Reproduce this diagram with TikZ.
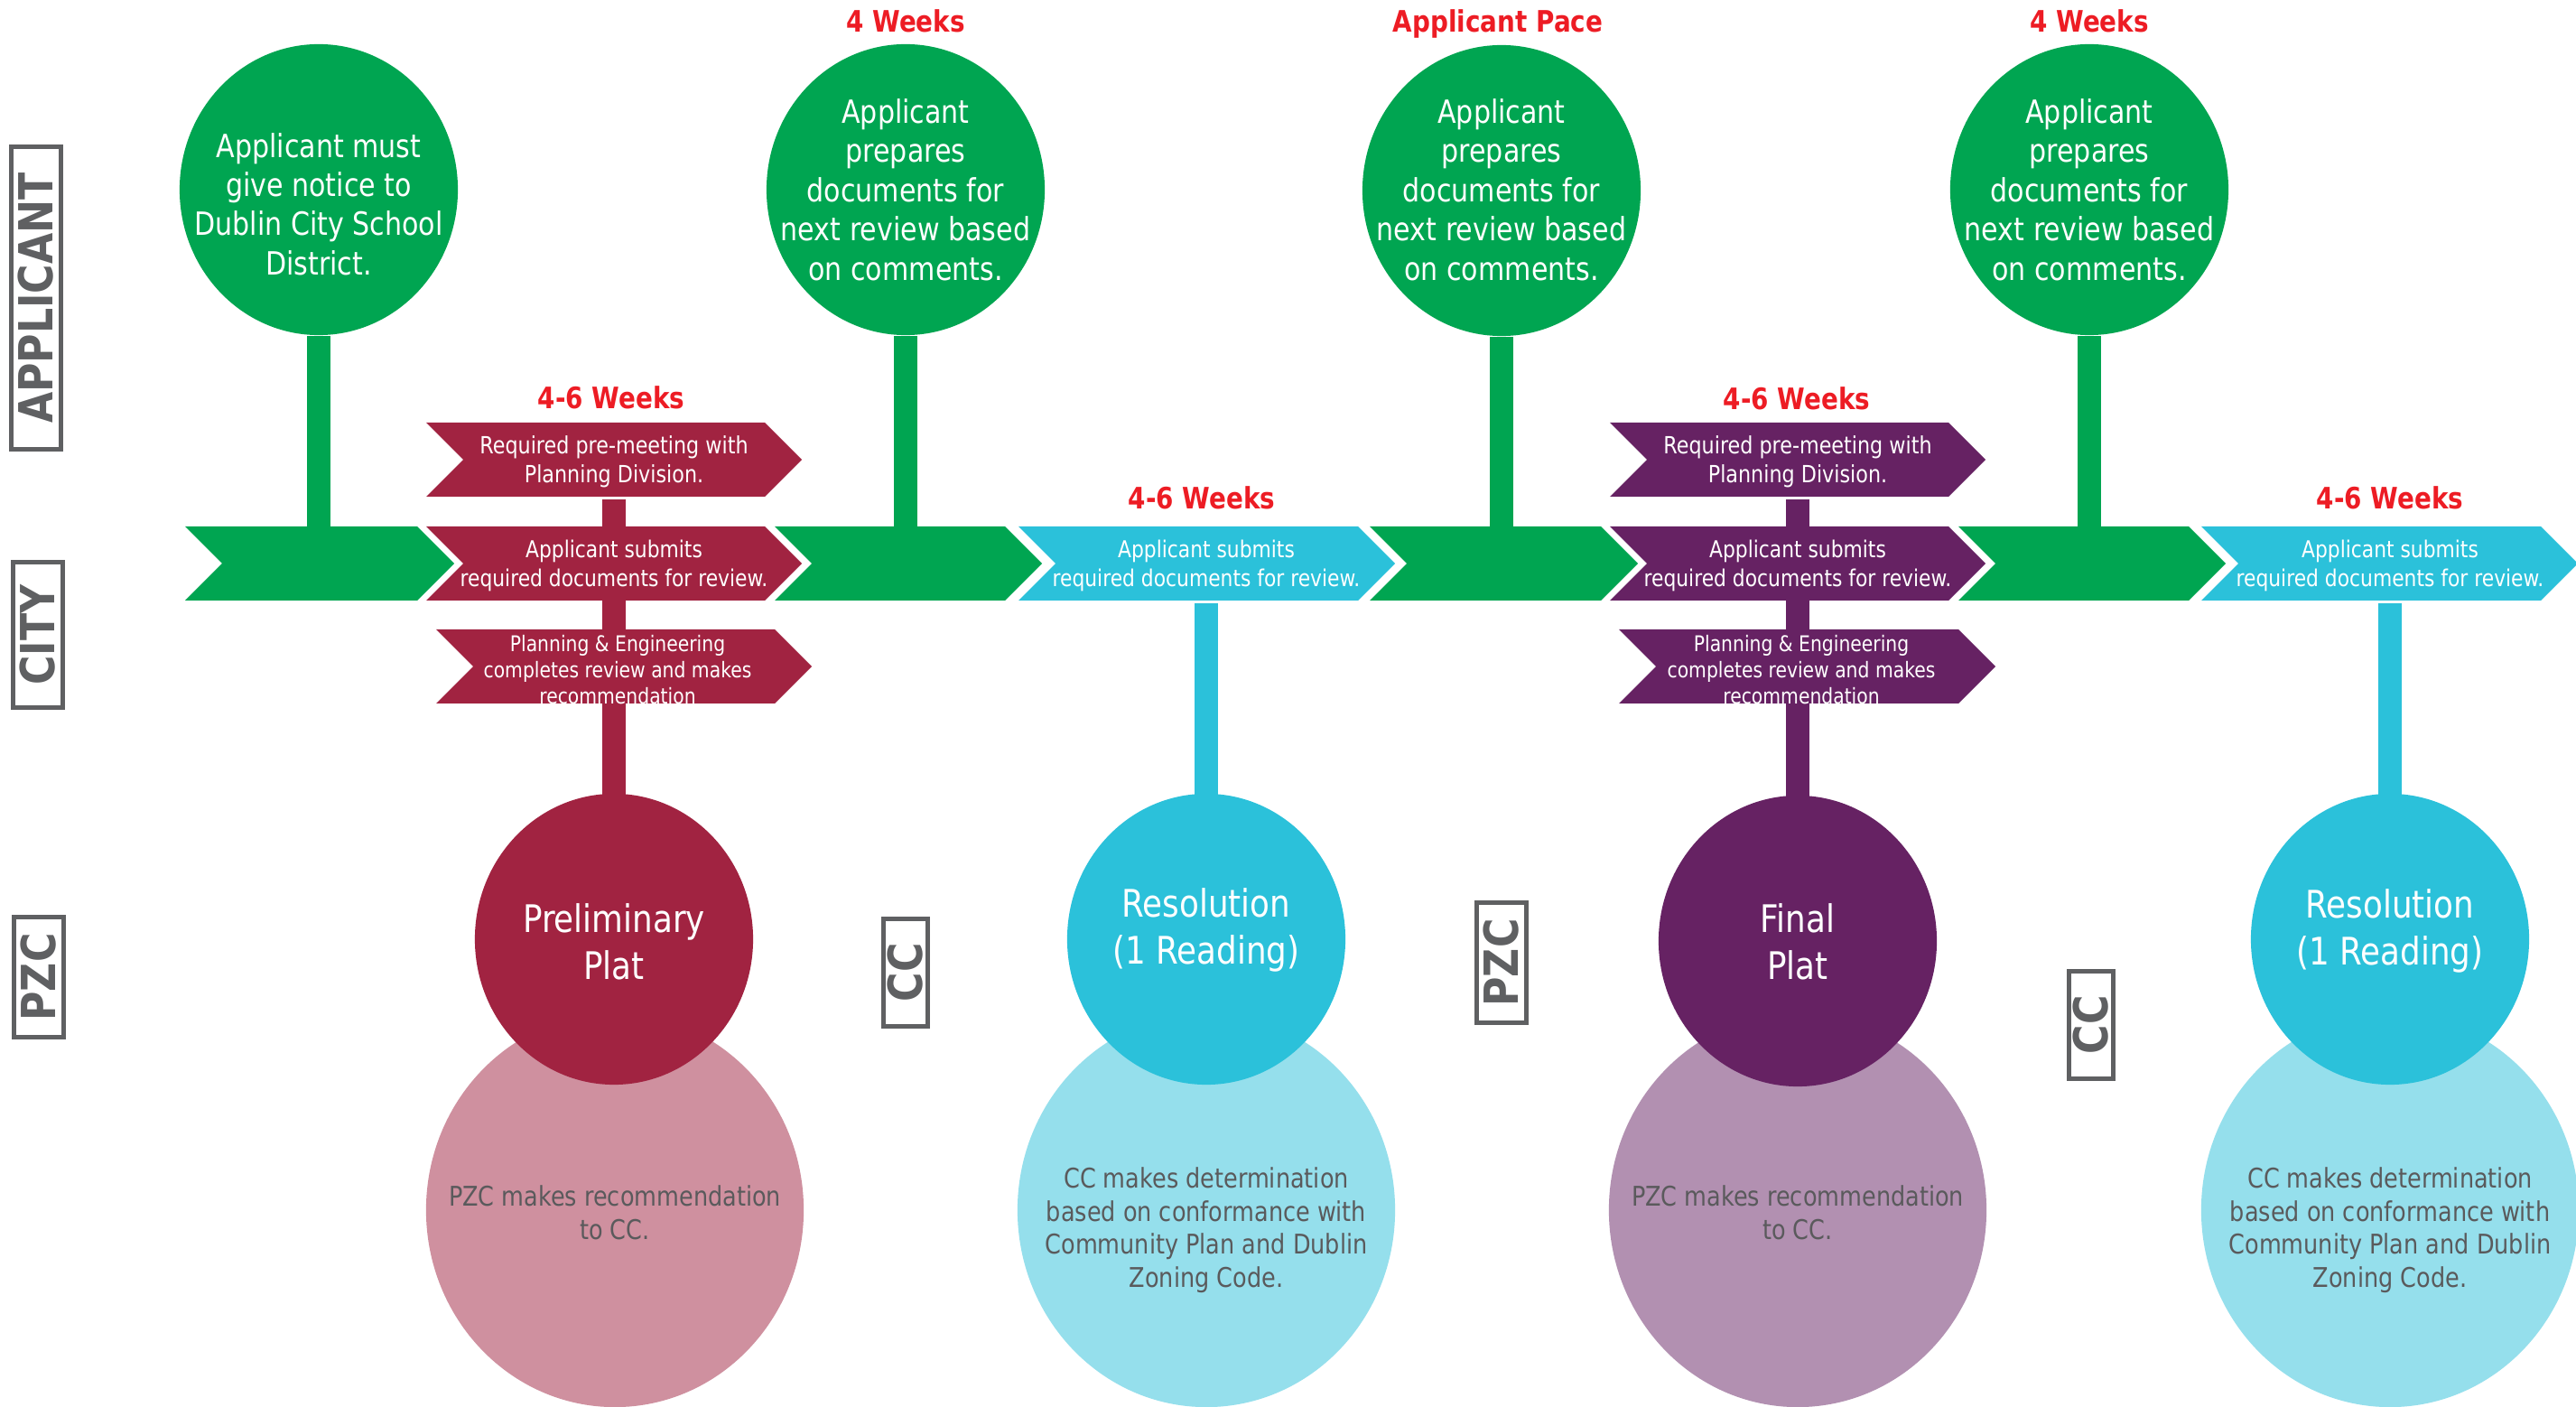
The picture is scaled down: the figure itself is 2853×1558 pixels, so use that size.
\documentclass[tikz,border=0pt]{standalone}
\usepackage{fontspec}
\setmainfont{DejaVu Sans}[FakeStretch=0.85]
\usetikzlibrary{shapes.geometric}
\usetikzlibrary{backgrounds}

\definecolor{plgreen}{HTML}{00A551}
\definecolor{plred}{HTML}{A12341}
\definecolor{plredlt}{HTML}{CF909F}
\definecolor{plcyan}{HTML}{2BC1DA}
\definecolor{plcyanlt}{HTML}{95DFEC}
\definecolor{plpurple}{HTML}{662263}
\definecolor{plpurplelt}{HTML}{B290B1}
\definecolor{wkred}{HTML}{ED1C24}
\definecolor{lanegray}{HTML}{5F6062}
\definecolor{notegray}{HTML}{5A5A5C}

\tikzset{
  every node/.style={inner sep=0pt},
  bub/.style={ellipse, minimum width=3.08cm, minimum height=3.22cm},
  bigbub/.style={ellipse, minimum width=4.18cm, minimum height=4.36cm},
  chevbox/.style={minimum width=3.75cm, minimum height=0.82cm, align=center, text=white,
    font=\fontsize{7.3pt}{9.1pt}\selectfont},
  chevtop/.style={chevbox, font=\fontsize{7.45pt}{9.1pt}\selectfont},
  chevsmall/.style={chevbox, font=\fontsize{6.8pt}{8.25pt}\selectfont},
  gtext/.style={align=center, text=white, font=\fontsize{10.07pt}{12.35pt}\selectfont},
  dtext/.style={align=center, text=white, font=\fontsize{11.95pt}{14.8pt}\selectfont},
  ltext/.style={align=center, text=notegray, font=\fontsize{8.54pt}{10.4pt}\selectfont},
  weeks/.style={anchor=base, text=wkred, font=\bfseries\fontsize{9.3pt}{9.3pt}\selectfont},
  lane/.style={draw=lanegray, line width=0.05cm, rotate=90, text=lanegray, minimum height=0.54cm,
    font=\bfseries\fontsize{14.8pt}{14.8pt}\selectfont},
  stem/.style={line width=0.26cm}
}

% chevron: colour, left x, right x, middle y
\newcommand{\chev}[4]{\fill[#1] (#2,#4-41) -- (#3,#4-41) -- (#3+41,#4) -- (#3,#4+41) -- (#2,#4+41) -- (#2+41,#4) -- cycle;}

\begin{document}
\begin{tikzpicture}[x=0.01cm, y=-0.01cm]
	\useasboundingbox (0,0) rectangle (2853,1558);
	% light circles
	\node[bigbub, fill=plredlt] (n1) at (681,1340) {};
	\node[bigbub, fill=plcyanlt] (n2) at (1336,1340) {};
	\node[bigbub, fill=plpurplelt] (n3) at (1991,1340) {};
	\node[bigbub, fill=plcyanlt] (n4) at (2647,1340) {};
	\node[ltext] (n1t) at (681,1343) {PZC makes recommendation\\to CC.};
	\node[ltext] (n2t) at (1336,1362) {CC makes determination\\based on conformance with\\Community Plan and Dublin\\Zoning Code.};
	\node[ltext] (n3t) at (1991,1343) {PZC makes recommendation\\to CC.};
	\node[ltext] (n4t) at (2647,1362) {CC makes determination\\based on conformance with\\Community Plan and Dublin\\Zoning Code.};
	% dark circles
	\node[bub, fill=plred] (d1) at (680,1040) {};
	\node[bub, fill=plcyan] (d2) at (1336,1040) {};
	\node[bub, fill=plpurple] (d3) at (1991,1042) {};
	\node[bub, fill=plcyan] (d4) at (2647,1040) {};
	\node[dtext] (d1t) at (680,1043) {Preliminary\\Plat};
	\node[dtext] (d2t) at (1336,1030) {Resolution\\(1 Reading)};
	\node[dtext] (d3t) at (1991,1043) {Final\\Plat};
	\node[dtext] (d4t) at (2647,1031) {Resolution\\(1 Reading)};
	% arrows
	\chev{plgreen}{205}{462}{624}
	\chev{plred}{472}{847}{509}
	\chev{plred}{472}{847}{624}
	\chev{plred}{483}{858}{738}
	\chev{plgreen}{858}{1113}{624}
	\chev{plcyan}{1128}{1504}{624}
	\chev{plgreen}{1517}{1773}{624}
	\chev{plpurple}{1783}{2158}{509}
	\chev{plpurple}{1783}{2158}{624}
	\chev{plpurple}{1793}{2169}{738}
	\chev{plgreen}{2169}{2424}{624}
	\chev{plcyan}{2438}{2814}{624}
	\node[chevbox] (ga1) at (354,624) {};
	\node[chevbox] (ga2) at (1006,624) {};
	\node[chevbox] (ga3) at (1665,624) {};
	\node[chevbox] (ga4) at (2317,624) {};
	\node[chevtop] (rup) at (680,511) {Required pre-meeting with\\Planning Division.};
	\node[chevbox] (rmid) at (680,626) {Applicant submits\\required documents for review.};
	\node[chevsmall] (rlow) at (684,742) {Planning \& Engineering\\completes review and makes\\recommendation};
	\node[chevbox] (cmid) at (1336,626) {Applicant submits\\required documents for review.};
	\node[chevtop] (pup) at (1991,511) {Required pre-meeting with\\Planning Division.};
	\node[chevbox] (pmid) at (1991,626) {Applicant submits\\required documents for review.};
	\node[chevsmall] (plow) at (1995,742) {Planning \& Engineering\\completes review and makes\\recommendation};
	\node[chevbox] (cmid2) at (2647,626) {Applicant submits\\required documents for review.};
	% top circles
	\node[bub, fill=plgreen] (g1) at (353,210) {};
	\node[bub, fill=plgreen] (g2) at (1003,210) {};
	\node[bub, fill=plgreen] (g3) at (1663,211) {};
	\node[bub, fill=plgreen] (g4) at (2314,210) {};
	\node[gtext] (g1t) at (353,226) {Applicant must\\give notice to\\Dublin City School\\District.};
	\node[gtext] (g2t) at (1003,210) {Applicant\\prepares\\documents for\\next review based\\on comments.};
	\node[gtext] (g3t) at (1663,210) {Applicant\\prepares\\documents for\\next review based\\on comments.};
	\node[gtext] (g4t) at (2314,210) {Applicant\\prepares\\documents for\\next review based\\on comments.};
	% durations
	\node[weeks] (w1) at (1003,36) {4 Weeks};
	\node[weeks] (w2) at (1659,36) {Applicant Pace};
	\node[weeks] (w3) at (2314,36) {4 Weeks};
	\node[weeks] (w4) at (677,453) {4-6 Weeks};
	\node[weeks] (w5) at (1331,564) {4-6 Weeks};
	\node[weeks] (w6) at (1990,454) {4-6 Weeks};
	\node[weeks] (w7) at (2647,564) {4-6 Weeks};
	% lanes
	\node[lane, minimum width=3.34cm] (lapp) at (40,330) {APPLICANT};
	\node[lane, minimum width=1.6cm] (lcity) at (42,703) {CITY};
	\node[lane, minimum width=1.33cm] (lpzc) at (43,1082) {PZC};
	\node[lane, minimum width=1.18cm, minimum height=0.49cm] (lcc1) at (1003,1077) {CC};
	\node[lane, minimum width=1.33cm] (lpzc2) at (1663,1066) {PZC};
	\node[lane, minimum width=1.18cm, minimum height=0.49cm] (lcc2) at (2316,1135) {CC};
	% stems
	\begin{scope}[on background layer]
		\fill[white] (0,0) rectangle (2853,1558);
		\draw[stem, plgreen] (g1.south) -- (g1 |- ga1);
		\draw[stem, plgreen] (g2.south) -- (g2 |- ga2);
		\draw[stem, plgreen] (g3.south) -- (g3 |- ga3);
		\draw[stem, plgreen] (g4.south) -- (g4 |- ga4);
		\draw[stem, plred] (rup) -- (rup |- d1);
		\draw[stem, plcyan] (cmid) -- (cmid |- d2);
		\draw[stem, plpurple] (pup) -- (pup |- d3);
		\draw[stem, plcyan] (cmid2) -- (cmid2 |- d4);
	\end{scope}
\end{tikzpicture}
\end{document}
